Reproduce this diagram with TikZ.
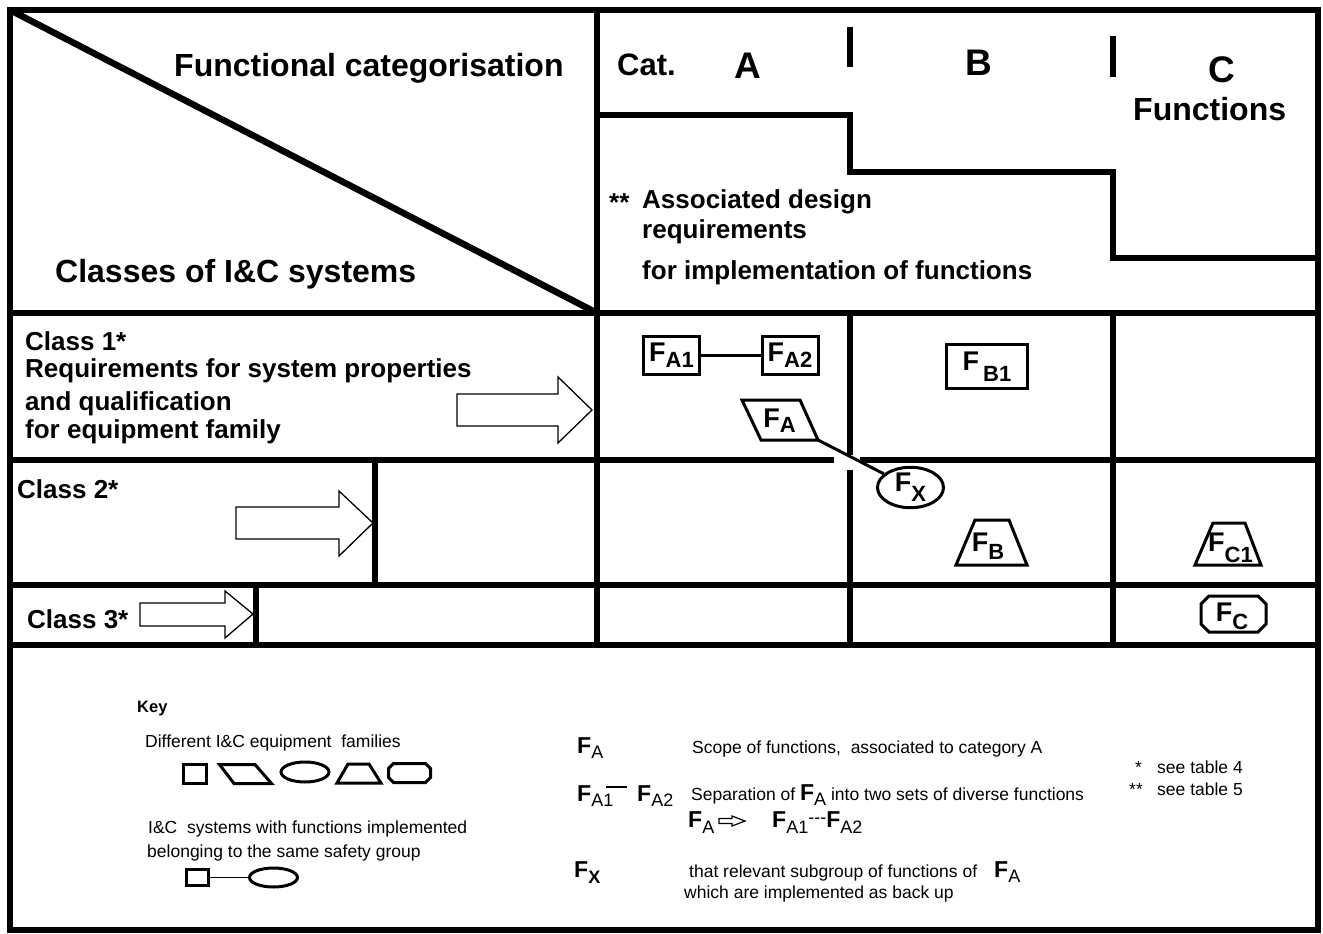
\documentclass[tikz,border=0pt]{standalone}
\usepackage{fontspec}
\setmainfont{Liberation Sans}
\usetikzlibrary{shapes.geometric}
\newcommand\fs[1]{\fontsize{#1}{#1}\selectfont}
\newcommand\TF[2][7]{{\fs{27}\bfseries F}\raisebox{-#1pt}{\fs{22}\bfseries #2}}
\newcommand\KF[2][5]{{\fs{23}\bfseries F}\raisebox{-#1pt}{\fs{18}#2}}
\newcommand\KFb[2][6]{{\fs{23}\bfseries F}\raisebox{-#1pt}{\fs{18}\bfseries #2}}
\begin{document}
\begin{tikzpicture}[x=1pt,y=-1pt,
  tbl/.style={line width=6.5pt},
  shp/.style={line width=3pt, line join=miter},
  blk/.style={line width=1.3pt, line join=miter},
  txt/.style={inner sep=0pt, anchor=base west},
  hd/.style={txt, font=\fs{32}\bfseries},
  md/.style={txt, font=\fs{26}\bfseries},
  kt/.style={txt, font=\fs{17.5}},
  fl/.style={inner sep=0pt},
]
\useasboundingbox (0,0) rectangle (1323,934);
% ---------- table lines
\draw[tbl] (10,10) rectangle (1318,930);
\draw[tbl] (10,10) -- (597,313);
\draw[tbl] (10,313) -- (1318,313);
\draw[tbl] (597,10) -- (597,645);
\draw[tbl] (10,460) -- (834,460);
\draw[tbl] (860,460) -- (1318,460);
\draw[tbl] (10,585) -- (1318,585);
\draw[tbl] (10,645) -- (1318,645);
\draw[tbl] (850,313) -- (850,455);
\draw[tbl] (850,470) -- (850,645);
\draw[tbl] (1113,313) -- (1113,645);
\draw[tbl] (375,460) -- (375,585);
\draw[tbl] (256,585) -- (256,645);
\draw[line width=6pt] (850,27) -- (850,67);
\draw[line width=6pt] (1113,36) -- (1113,77);
\draw[tbl, line join=miter] (597,115) -- (850,115) -- (850,172) -- (1113,172) -- (1113,258) -- (1318,258);
% ---------- header texts
\node[hd] (tfc) at (174,77) {Functional categorisation};
\node[hd] (tcl) at (55,282) {Classes of I\&C systems};
\node[txt, font=\fs{31}\bfseries] (tcat) at (617,76) {Cat.};
\node[txt, font=\fs{37}\bfseries] (tA) at (734,79) {A};
\node[txt, font=\fs{37}\bfseries] (tB) at (965,75) {B};
\node[txt, font=\fs{37}\bfseries] (tC) at (1208,82) {C};
\node[txt, font=\fs{32}\bfseries] (tfun) at (1133,121) {Functions};
\node[md] (tst) at (609,211) {**};
\node[md] (tad1) at (642,208) {Associated design};
\node[md] (tad2) at (642,238) {requirements};
\node[md] (tad3) at (642,279) {for implementation of functions};
% ---------- class texts
\node[md] (c1) at (25,350) {Class 1*};
\node[md] (c1a) at (25,377) {Requirements for system properties};
\node[md] (c1b) at (25,410) {and qualification};
\node[md] (c1c) at (25,438) {for equipment family};
\node[md] (c2) at (17,498) {Class 2*};
\node[md] (c3) at (27,628) {Class 3*};
% ---------- block arrows
\draw[blk] (457,394) -- (558,394) -- (558,377) -- (592,410) -- (558,443) -- (558,426) -- (457,426) -- cycle;
\draw[blk] (236,507) -- (339,507) -- (339,491) -- (373,523) -- (339,556) -- (339,539) -- (236,539) -- cycle;
\draw[blk] (140,603) -- (225,603) -- (225,591) -- (253,614) -- (225,638) -- (225,626) -- (140,626) -- cycle;
% ---------- function shapes
\node[draw, shp, minimum width=56pt, minimum height=38pt, inner sep=0pt] (fa1) at (671.5,355.5) {\TF[6]{A1}};
\node[draw, shp, minimum width=56pt, minimum height=38pt, inner sep=0pt] (fa2) at (790,355.5) {\TF[6]{A2}};
\draw[shp] (fa1) -- (fa2);
\node[draw, shp, minimum width=81pt, minimum height=44pt, inner sep=0pt] (fb1) at (987,366.5) {\TF[11]{\hspace{4pt}B1}};
\draw[shp] (742,400) -- (800,400) -- (818,440) -- (761,440) -- cycle;
\coordinate (fabr) at (818,440);
\node[fl] (fa) at (779.5,420.5) {\TF[5]{A}};
\node[draw, shp, ellipse, minimum width=66pt, minimum height=40pt, inner sep=0pt] (fx) at (910.5,487.5) {\TF[10]{X}};
\draw[shp] (fabr) -- (fx);
\draw[shp] (975,520) -- (1009,520) -- (1027,565) -- (956,565) -- cycle;
\node[fl] (fb) at (988,546.5) {\TF[8]{B}};
\draw[shp] (1213,523) -- (1245,523) -- (1261,565) -- (1195,565) -- cycle;
\node[fl] (fc1) at (1230.5,548) {\TF[11]{C1}};
\draw[shp] (1209,596) -- (1258,596) -- (1266,604) -- (1266,624) -- (1258,632) -- (1209,632) -- (1201,624) -- (1201,604) -- cycle;
\node[fl] (fc) at (1232,616.5) {\TF[8]{C}};
% ---------- key, left
\node[txt, font=\fs{16.5}\bfseries] (key) at (137,712) {Key};
\node[kt] (kl1) at (145,747) {Different I\&C equipment\ \ families};
\draw[shp] (183.5,764.5) rectangle (206.5,783.5);
\draw[shp] (219.5,764.5) -- (255,764.5) -- (271.5,783.5) -- (234,783.5) -- cycle;
\draw[shp] (305,772) ellipse [x radius=24, y radius=10];
\draw[shp] (348,764) -- (369,764) -- (381,783) -- (337,783) -- cycle;
\draw[shp] (393.5,763.5) -- (425.5,763.5) -- (430.5,768.5) -- (430.5,777.5) -- (425.5,782.5) -- (393.5,782.5) -- (388.5,777.5) -- (388.5,768.5) -- cycle;
\node[kt] (kl2) at (148,833) {I\&C\ \ systems with functions implemented};
\node[kt] (kl3) at (147,857) {belonging to the same safety group};
\node[draw, shp, minimum width=22pt, minimum height=16pt, inner sep=0pt] (lsq) at (197.5,877.5) {};
\node[draw, shp, ellipse, minimum width=48pt, minimum height=19pt, inner sep=0pt] (lel) at (273.5,877.5) {};
\draw[line width=1.5pt] (lsq) -- (lel);
% ---------- key, right
\node[txt] (r1f) at (577,753) {\KF[5]{A}};
\node[kt] (r1t) at (692,753) {Scope of functions,\ \ associated to category A};
\node[txt] (r2a) at (577,801) {\KF[5]{A1}};
\node[txt] (r2b) at (637,801) {\KF[5]{A2}};
\draw[line width=1.3pt] ([xshift=-7pt,yshift=-2pt]r2a.north east) -- ([xshift=-10pt,yshift=-2pt]r2b.north west);
\node[kt] (r2t) at (691,800) {Separation of \KF[5]{A} into two sets of diverse functions};
\node[txt] (r3a) at (688,827) {\KF[6]{A}};
\draw[line width=1.2pt, line join=miter] (719,818.5) -- (732,818.5) -- (732,816) -- (745,821) -- (732,826) -- (732,823.5) -- (719,823.5) -- cycle;
\node[txt] (r3b) at (772,827) {\KF[6]{A1}{\fs{18}\raisebox{4pt}{-{}-{}-}}\KF[6]{A2}};
\node[txt] (r4f) at (574,877) {\KFb[6]{X}};
\node[kt] (r4t) at (689,877) {that relevant subgroup of functions of};
\node[txt] (r4a) at (994,877) {\KF[5]{A}};
\node[kt] (r5t) at (684,898) {which are implemented as back up};
\node[kt] (s1) at (1135,773) {*};
\node[kt] (s1t) at (1157,773) {see table 4};
\node[kt] (s2) at (1129,795) {**};
\node[kt] (s2t) at (1157,795) {see table 5};
\end{tikzpicture}
\end{document}
